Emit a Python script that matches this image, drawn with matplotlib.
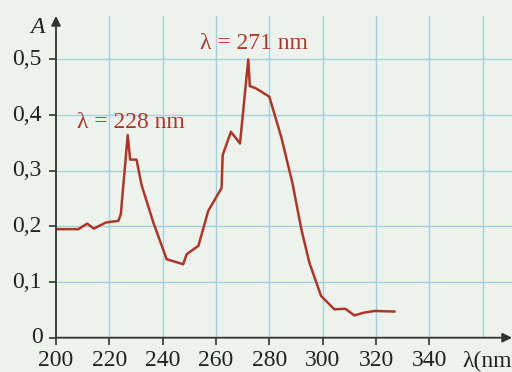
import numpy as np
import matplotlib.pyplot as plt

# spectre d'absorption (lecture du graphique)
wl = [200, 208.4, 211.7, 214.2, 218.7, 223.4, 224.3, 226.9, 227.8, 230.2, 232.1,
      236.5, 241.5, 247.7, 249.0, 253.4, 257.1, 262.1, 262.5, 265.6, 269.0, 272.1,
      272.7, 275.0, 280.0, 284.5, 288.7, 292.0, 295.0, 299.4, 304.4, 308.5, 311.9,
      315.5, 319.4, 326.9]
absorb = [0.195, 0.195, 0.205, 0.196, 0.207, 0.210, 0.222, 0.364, 0.320, 0.320, 0.274,
          0.207, 0.141, 0.132, 0.150, 0.165, 0.228, 0.269, 0.328, 0.370, 0.349, 0.500,
          0.452, 0.448, 0.433, 0.360, 0.277, 0.195, 0.135, 0.075, 0.051, 0.052, 0.040,
          0.045, 0.048, 0.047]

xticks = [200, 220, 240, 260, 280, 300, 320, 340]
yticks = [0, 0.1, 0.2, 0.3, 0.4, 0.5]
ylabels = ["0", "0,1", "0,2", "0,3", "0,4", "0,5"]

bg = "#edf2ec"
red = "#ab372b"
grid_c = "#a3d2de"
dark = "#222222"
fs = 17

plt.rcParams['font.family'] = ['Liberation Serif', 'DejaVu Serif']

fig = plt.figure(figsize=(5.12, 3.72), dpi=100, facecolor=bg)
ax = fig.add_axes([56/512, (372-337.7)/372, (512-56)/512, (337.7-16)/372])
ax.set_facecolor(bg)
ax.set_xlim(200, 371)
ax.set_ylim(0, 0.578)

for x in xticks[1:] + [360]:
    ax.axvline(x, color=grid_c, lw=1, zorder=0)
for y in yticks[1:]:
    ax.axhline(y, color=grid_c, lw=1, zorder=0)

ax.plot(wl, absorb, color=red, lw=1.8, zorder=3)

for s in ['top', 'right', 'left', 'bottom']:
    ax.spines[s].set_visible(False)
ax.annotate("", xy=(371, 0), xytext=(200, 0), annotation_clip=False,
            arrowprops=dict(arrowstyle="-|>", color="#333333", lw=1.3,
                            mutation_scale=14, shrinkA=0, shrinkB=0))
ax.annotate("", xy=(200, 0.578), xytext=(200, 0), annotation_clip=False,
            arrowprops=dict(arrowstyle="-|>", color="#333333", lw=1.3,
                            mutation_scale=14, shrinkA=0, shrinkB=0))

ax.set_xticks(xticks)
ax.set_yticks(yticks)
ax.set_yticklabels([])
ax.tick_params(direction='out', length=5, width=1.2, color="#333333",
               labelsize=fs, labelcolor=dark, pad=3.5)

# y labels: "0,x" start at the left edge, "0" sits closer to the axis
ytr = ax.get_yaxis_transform()
for v, lab in zip(yticks, ylabels):
    if lab == "0":
        ax.text(-0.028, v, lab, fontsize=fs, color=dark, ha='right', va='center',
                transform=ytr, clip_on=False)
    else:
        ax.text(-0.096, v, lab, fontsize=fs, color=dark, ha='left', va='center',
                transform=ytr, clip_on=False)

ax.text(1.0, -0.043, "λ(nm", fontsize=fs, color=dark,
        ha='right', va='center', clip_on=False, transform=ytr)
ax.text(-0.024, 0.557, "A", fontsize=fs, style='italic', color=dark,
        ha='right', va='center', transform=ytr, clip_on=False)

ax.text(207.8, 0.386, "λ = 228 nm", fontsize=fs, color=red, ha='left', va='center')
ax.text(254, 0.529, "λ = 271 nm", fontsize=fs, color=red, ha='left', va='center')

fig.savefig("out.png", dpi=100, facecolor=bg)
